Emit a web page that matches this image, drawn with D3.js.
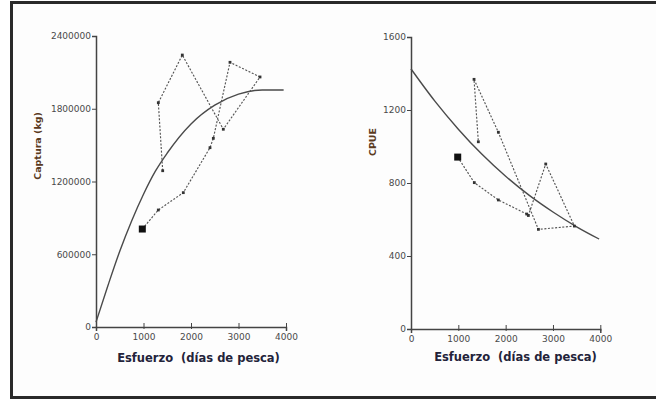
<!DOCTYPE html>
<html>
<head>
<meta charset="utf-8">
<script src="https://cdn.jsdelivr.net/npm/d3@7"></script>
<style>
  html, body { margin: 0; padding: 0; background: #ffffff; }
  svg { display: block; }
  .tick text { font-family: "DejaVu Sans", Verdana, sans-serif; font-size: 9px; fill: #4a4a4a; }
  .title { font-family: "DejaVu Sans", Verdana, sans-serif; font-weight: bold; }
</style>
</head>
<body>
<svg id="chart" width="656" height="401"></svg>
<script>
// Observed effort (días de pesca), in chronological order
const effortObsCatch = [975, 1312, 1838, 2400, 2470, 2821, 3453, 2680, 1817, 1312, 1404];
// Observed catch (kg)
const catchObs = [808000, 965000, 1108000, 1479000, 1556000, 2183000, 2062000, 1631000, 2243000, 1850000, 1289000];

// Observed effort for the CPUE panel
const effortObsCpue = [987, 1338, 1846, 2445, 2480, 2847, 3453, 2692, 1846, 1332, 1423];
// Observed CPUE
const cpueObs = [942, 802, 707, 630, 622, 904, 564, 546, 1078, 1368, 1026];

// Fitted production curve (catch vs effort)
const curveEffortC = [0, 250, 500, 750, 1000, 1250, 1500, 2000, 2500, 3000, 3500, 3950];
const curveCatch = [40000, 340000, 625000, 875000, 1095000, 1285000, 1435000, 1675000, 1830000, 1920000, 1955000, 1955000];

// Fitted CPUE curve
const curveEffortU = [0, 500, 1000, 1500, 2000, 2500, 3000, 3500, 3975];
const curveCpue = [1425, 1250, 1095, 957, 837, 732, 641, 560, 493];

// Axis ticks
const xTicks = [0, 1000, 2000, 3000, 4000];
const catchTicks = [0, 600000, 1200000, 1800000, 2400000];
const cpueTicks = [0, 400, 800, 1200, 1600];

const xTitle = "Esfuerzo\u00a0\u00a0(días de pesca)";

const svg = d3.select("#chart");

// Framed panel
svg.append("rect")
  .attr("x", 11.5).attr("y", 2.5)
  .attr("width", 660).attr("height", 395)
  .attr("fill", "#fdfdfd")
  .attr("stroke", "#2a2a2a")
  .attr("stroke-width", 3);

function panel(opts) {
  const g = svg.append("g");
  const x = d3.scaleLinear().domain([0, 4000]).range(opts.xRange);
  const y = d3.scaleLinear().domain(opts.yDomain).range(opts.yRange);

  // y axis
  const ya = g.append("g")
    .attr("transform", `translate(${opts.xRange[0]},0)`)
    .call(d3.axisLeft(y).tickValues(opts.yTicks).tickSize(4).tickPadding(1).tickFormat(d3.format("d")));
  ya.select(".domain").attr("stroke", "#444").attr("stroke-width", 1.5);
  ya.selectAll(".tick line").attr("stroke", "#444").attr("x2", -4).attr("x1", 1);

  // x axis
  const xa = g.append("g")
    .attr("transform", `translate(0,${opts.yRange[0]})`)
    .call(d3.axisBottom(x).tickValues(xTicks).tickSize(4).tickPadding(3).tickFormat(d3.format("d")));
  xa.select(".domain").attr("stroke", "#444").attr("stroke-width", 1.5);
  xa.selectAll(".tick line").attr("stroke", "#444").attr("y1", -4).attr("y2", 2);

  // fitted curve
  const curve = d3.line()
    .x((d, i) => x(opts.curveX[i]))
    .y(d => y(d))
    .curve(d3.curveMonotoneX);
  g.append("path")
    .datum(opts.curveY)
    .attr("d", curve)
    .attr("fill", "none")
    .attr("stroke", "#4a4a4a")
    .attr("stroke-width", 1.4);

  // observed trajectory
  const obs = d3.line()
    .x((d, i) => x(opts.obsX[i]))
    .y(d => y(d));
  g.append("path")
    .datum(opts.obsY)
    .attr("d", obs)
    .attr("fill", "none")
    .attr("stroke", "#555")
    .attr("stroke-width", 1.15)
    .attr("stroke-dasharray", "2,1.6");

  g.selectAll("rect.pt")
    .data(opts.obsY.slice(1))
    .join("rect")
    .attr("class", "pt")
    .attr("x", (d, i) => x(opts.obsX[i + 1]) - 1.4)
    .attr("y", d => y(d) - 1.4)
    .attr("width", 2.8).attr("height", 2.8)
    .attr("fill", "#333");

  // first year highlighted
  g.append("rect")
    .attr("x", x(opts.obsX[0]) - 3.5)
    .attr("y", y(opts.obsY[0]) - 3.5)
    .attr("width", 7).attr("height", 7)
    .attr("fill", "#111");

  // titles
  g.append("text")
    .attr("class", "title")
    .attr("x", opts.xTitlePos[0]).attr("y", opts.xTitlePos[1])
    .attr("text-anchor", "middle")
    .attr("dominant-baseline", "central")
    .attr("font-size", 11.5)
    .attr("fill", "#23233a")
    .text(xTitle);

  g.append("text")
    .attr("class", "title")
    .attr("transform", `translate(${opts.yTitlePos[0]},${opts.yTitlePos[1]}) rotate(-90)`)
    .attr("text-anchor", "middle")
    .attr("dominant-baseline", "central")
    .attr("font-size", 9.5)
    .attr("fill", "#5a3a1e")
    .text(opts.yTitle);
}

panel({
  xRange: [96, 286],
  yDomain: [0, 2400000],
  yRange: [327, 36],
  yTicks: catchTicks,
  curveX: curveEffortC, curveY: curveCatch,
  obsX: effortObsCatch, obsY: catchObs,
  xTitlePos: [198.5, 358],
  yTitlePos: [37, 146],
  yTitle: "Captura (kg)"
});

panel({
  xRange: [411, 600.3],
  yDomain: [0, 1600],
  yRange: [329, 37],
  yTicks: cpueTicks,
  curveX: curveEffortU, curveY: curveCpue,
  obsX: effortObsCpue, obsY: cpueObs,
  xTitlePos: [515.5, 357],
  yTitlePos: [372, 142],
  yTitle: "CPUE"
});
</script>
</body>
</html>
